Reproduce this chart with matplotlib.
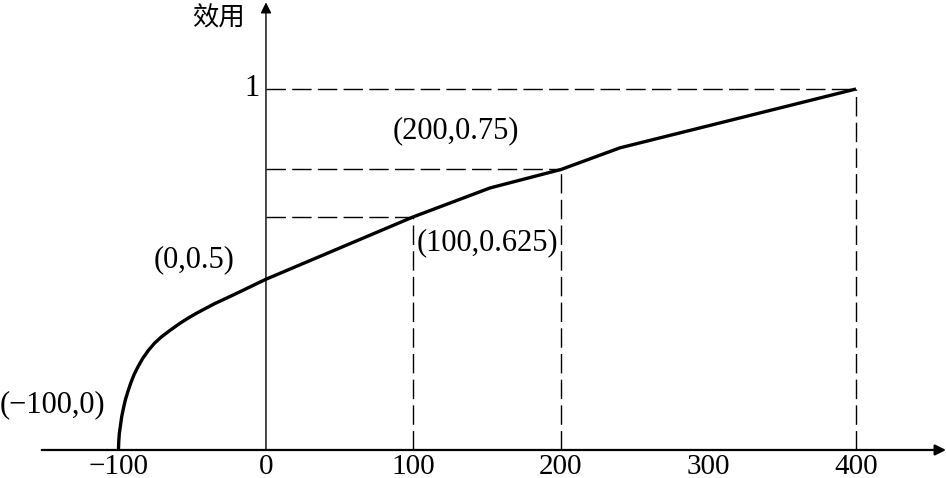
import matplotlib.pyplot as plt

# utility curve, values (y is the drawn height, axis 0..1)
curve_x = [-100, -99.8, -99.4, -98.6, -97.8, -96.6, -95.3, -93.6, -91.7, -89.5, -86.7, -83.5,
           -79.5, -75.5, -70.7, -64.5, -58.3, -52.5, -47, -35, -22.4, 0, 100, 152, 200, 240, 400]
curve_y = [0, 0.023, 0.046, 0.069, 0.092, 0.116, 0.139, 0.162, 0.185, 0.208, 0.231, 0.254,
           0.277, 0.296, 0.314, 0.333, 0.351, 0.366, 0.379, 0.405, 0.429, 0.473, 0.646, 0.726, 0.777, 0.837, 1.0]

# points that get dashed guide lines
guide_x = [100, 200, 400]
guide_y = [0.646, 0.777, 1.0]

tick_values = [-100, 0, 100, 200, 300, 400]
tick_labels = ["\u2212100", "0", "100", "200", "300", "400"]

point_labels = ["(\u2212100,0)", "(0,0.5)", "(100,0.625)", "(200,0.75)"]
point_label_pos = [(-145, 0.125), (-49, 0.526), (150, 0.573), (129, 0.884)]

fig = plt.figure(figsize=(9.46, 4.78), dpi=100)
ax = fig.add_axes([0, 0, 1, 1])
ax.set_xlim(-180.3, 461)
ax.set_ylim(-0.0776, 1.2465)
ax.axis("off")

serif = "Liberation Serif"

# axes with arrows
ax.annotate("", xy=(461, 0), xytext=(-152, 0),
            arrowprops=dict(arrowstyle="-|>", lw=1.6, color="black", mutation_scale=16,
                            shrinkA=0, shrinkB=0))
ax.annotate("", xy=(0, 1.24), xytext=(0, 0),
            arrowprops=dict(arrowstyle="-|>", lw=1.0, color="black", mutation_scale=16,
                            shrinkA=0, shrinkB=0))

# dashed guides
for gx, gy in zip(guide_x, guide_y):
    ax.plot([0, gx], [gy, gy], color="black", lw=1.0, dashes=(14, 4.5))
    ax.plot([gx, gx], [0, gy], color="black", lw=1.0, dashes=(14, 4.5))

# the curve
ax.plot(curve_x, curve_y, color="black", lw=2.4, solid_capstyle="butt", solid_joinstyle="round")

# tick labels
for v, lab in zip(tick_values, tick_labels):
    ax.text(v, -0.047, lab, ha="center", va="center", fontsize=21, family=serif)

ax.text(-4, 1.0, "1", ha="right", va="center", fontsize=22, family=serif)
ax.text(-32, 1.197, "效用", ha="center", va="center", fontsize=19,
        family=["Noto Sans CJK SC", "DejaVu Sans"])

for lab, (px, py) in zip(point_labels, point_label_pos):
    ax.text(px, py, lab, ha="center", va="center", fontsize=22, family=serif)

fig.savefig("out.png", dpi=100)
